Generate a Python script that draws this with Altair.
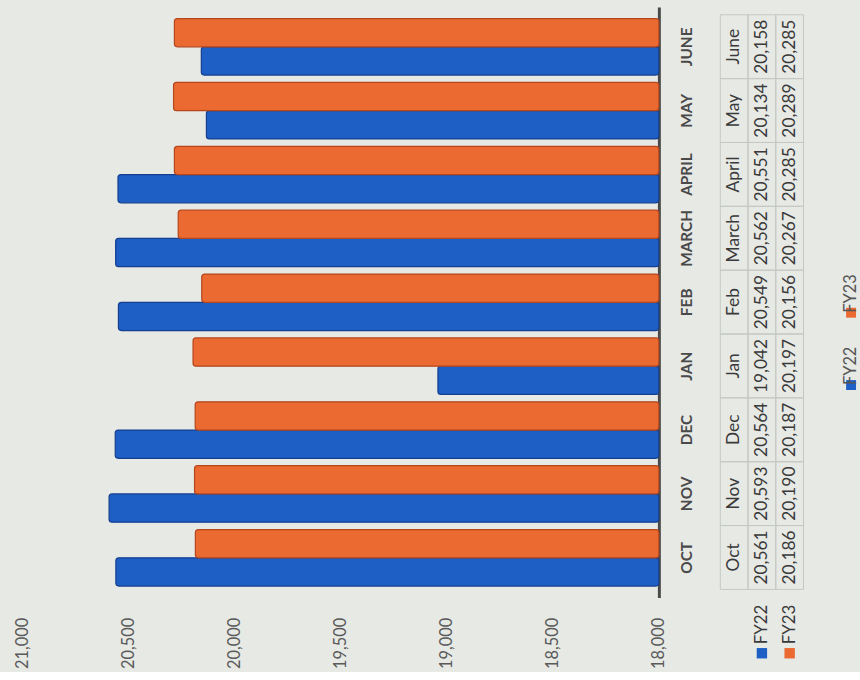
import altair as alt
import pandas as pd

# Monthly figures, fiscal years 22 and 23
month_codes = ["OCT", "NOV", "DEC", "JAN", "FEB", "MARCH", "APRIL", "MAY", "JUNE"]
month_names = ["Oct", "Nov", "Dec", "Jan", "Feb", "March", "April", "May", "June"]
series = ["FY22", "FY23"]
fy22 = [20561, 20593, 20564, 19042, 20549, 20562, 20551, 20134, 20158]
fy23 = [20186, 20190, 20187, 20197, 20156, 20267, 20285, 20289, 20285]
value_ticks = [18000, 18500, 19000, 19500, 20000, 20500, 21000]

BLUE = "#1d5fc4"
ORANGE = "#ea6a31"
BLUE_EDGE = "#143f8e"
ORANGE_EDGE = "#b6461c"
TEXT = "#3a3a3a"
FONT = "Lato"

rows_top_down = month_codes[::-1]

bars = pd.DataFrame(
    [{"month": m, "series": "FY22", "value": v} for m, v in zip(month_codes, fy22)]
    + [{"month": m, "series": "FY23", "value": v} for m, v in zip(month_codes, fy23)]
)

color_scale = alt.Scale(domain=series, range=[BLUE, ORANGE])
stroke_scale = alt.Scale(domain=series, range=[BLUE_EDGE, ORANGE_EDGE])

main = (
    alt.Chart(bars)
    .mark_bar(cornerRadius=3, strokeWidth=1.2)
    .encode(
        x=alt.X(
            "value:Q",
            scale=alt.Scale(domain=[18000, 21000], reverse=True, nice=False, zero=False),
            axis=alt.Axis(
                values=value_ticks, format=",d", labelAngle=270, labelAlign="right",
                labelBaseline="middle", labelPadding=20, labelFontSize=16.5,
                labelColor="#5a5a5a", labelFont=FONT, domain=False, ticks=False,
                grid=False, title=None,
            ),
        ),
        x2=alt.datum(18000),
        y=alt.Y(
            "month:N", sort=rows_top_down,
            scale=alt.Scale(paddingInner=0.115, paddingOuter=0.18),
            axis=alt.Axis(
                orient="right", labelAngle=270, labelAlign="center", labelBaseline="top",
                labelPadding=21, labelFontSize=15.5, labelFontWeight="bold",
                labelColor="#4a4a4a", labelFont=FONT, domainColor="#4a4a4a",
                domainWidth=3, ticks=False, grid=False, title=None,
            ),
        ),
        yOffset=alt.YOffset("series:N", sort=["FY23", "FY22"], scale=alt.Scale(paddingInner=0)),
        color=alt.Color("series:N", scale=color_scale, legend=None),
        stroke=alt.Stroke("series:N", scale=stroke_scale, legend=None),
    )
    .properties(width=642, height=596)
)

# Data table beneath the category axis
cells = []
for code, name, a, b in zip(month_codes, month_names, fy22, fy23):
    cells.append({"row": code, "col": "name", "label": name})
    cells.append({"row": code, "col": "FY22", "label": f"{a:,}"})
    cells.append({"row": code, "col": "FY23", "label": f"{b:,}"})
cells_df = pd.DataFrame(cells)
headers_df = pd.DataFrame({"row": ["hdr", "hdr"], "col": series, "label": series})

table_rows = rows_top_down + ["hdr"]
tx = alt.X("col:N", sort=["name", "FY22", "FY23"], scale=alt.Scale(paddingInner=0, paddingOuter=0), axis=None)
ty_scale = alt.Scale(domain=table_rows, paddingInner=0, paddingOuter=0.121)

grid = alt.Chart(cells_df).mark_rect(fillOpacity=0, stroke="#c4c8c3", strokeWidth=1).encode(
    x=tx, y=alt.Y("row:N", scale=ty_scale, axis=None)
)
cell_text = alt.Chart(cells_df).mark_text(
    angle=270, align="center", baseline="middle", font=FONT, fontSize=17.5, color=TEXT
).encode(x=tx, y=alt.Y("row:N", scale=ty_scale, axis=None), text="label:N")
hdr_square = alt.Chart(headers_df).mark_square(size=110, opacity=1).encode(
    x=tx, y=alt.Y("row:N", scale=ty_scale, axis=None, bandPosition=1),
    color=alt.Color("col:N", scale=alt.Scale(domain=series, range=[BLUE, "#e0452b"]), legend=None),
)
hdr_text = alt.Chart(headers_df).mark_text(
    angle=270, align="left", baseline="middle", font=FONT, fontSize=17, color=TEXT
).encode(x=tx, y=alt.Y("row:N", scale=ty_scale, axis=None, bandPosition=0.86), text="label:N")

table = alt.layer(grid, cell_text, hdr_square, hdr_text).properties(width=84, height=660)

# Series key
key_df = pd.DataFrame({"series": series})
key_scale = alt.Scale(domain=["FY23", "FY22"], range=[272, 418], paddingInner=0, paddingOuter=0)
key_square = alt.Chart(key_df).mark_square(size=100, opacity=1).encode(
    x=alt.value(23),
    y=alt.Y("series:N", scale=key_scale, axis=None, bandPosition=0.96),
    color=alt.Color("series:N", scale=alt.Scale(domain=series, range=[BLUE, "#e4552c"]), legend=None),
)
key_text = alt.Chart(key_df).mark_text(
    angle=270, align="left", baseline="middle", font=FONT, fontSize=16.5, color="#555555"
).encode(
    x=alt.value(23),
    y=alt.Y("series:N", scale=key_scale, axis=None, bandPosition=0.86),
    text="series:N",
)
key = alt.layer(key_square, key_text).properties(width=30, height=660)

chart = (
    alt.hconcat(main, table, key, spacing=24)
    .properties(padding={"left": 15, "top": 4, "right": 0, "bottom": 0})
    .configure(background="#e7e9e5")
    .configure_view(stroke=None)
)

chart.save("out.html", embed_options={"renderer": "svg", "actions": False})
